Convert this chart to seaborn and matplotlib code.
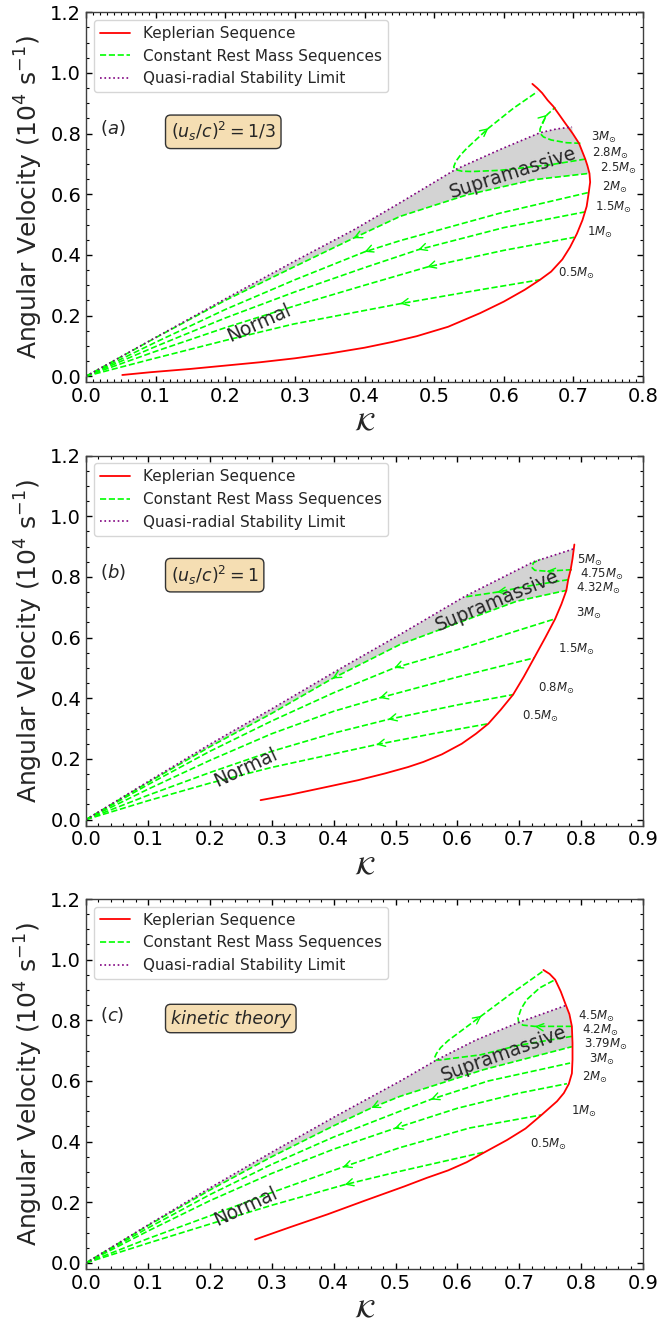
import numpy as np
import matplotlib
matplotlib.use("Agg")
import matplotlib.pyplot as plt
from matplotlib.ticker import MultipleLocator, FormatStrFormatter
import seaborn as sns

# ---------------- panel (a): (u_s/c)^2 = 1/3 ----------------
kep_a_k = [0.052, 0.092, 0.15, 0.2, 0.25, 0.3, 0.35, 0.4, 0.44, 0.475, 0.52, 0.566,
           0.6, 0.63, 0.652, 0.668, 0.684, 0.695, 0.705, 0.713, 0.719, 0.722, 0.724,
           0.723, 0.72, 0.717, 0.708, 0.699, 0.688, 0.671, 0.663, 0.655, 0.648, 0.641]
kep_a_w = [0.004, 0.013, 0.024, 0.035, 0.046, 0.059, 0.075, 0.094, 0.113, 0.132, 0.163,
           0.208, 0.246, 0.285, 0.318, 0.345, 0.385, 0.425, 0.47, 0.515, 0.56, 0.606,
           0.64, 0.669, 0.695, 0.716, 0.768, 0.8, 0.835, 0.89, 0.91, 0.934, 0.95, 0.964]
seq_a_05_k = [0, 0.092, 0.2, 0.298, 0.451, 0.566, 0.652]
seq_a_05_w = [0, 0.055, 0.118, 0.172, 0.239, 0.285, 0.318]
seq_a_1_k = [0, 0.1, 0.2, 0.3, 0.4, 0.49, 0.6, 0.701]
seq_a_1_w = [0, 0.082, 0.16, 0.232, 0.3, 0.36, 0.415, 0.458]
seq_a_15_k = [0, 0.1, 0.2, 0.3, 0.4, 0.477, 0.6, 0.717]
seq_a_15_w = [0, 0.098, 0.192, 0.278, 0.358, 0.417, 0.49, 0.542]
seq_a_2_k = [0, 0.1, 0.2, 0.3, 0.4, 0.451, 0.595, 0.722]
seq_a_2_w = [0, 0.112, 0.22, 0.318, 0.41, 0.447, 0.538, 0.606]
seq_a_25_k = [0, 0.1, 0.2, 0.3, 0.384, 0.451, 0.547, 0.643, 0.723]
seq_a_25_w = [0, 0.127, 0.25, 0.362, 0.455, 0.527, 0.598, 0.648, 0.669]
seq_a_28_k = [0.717, 0.666, 0.595, 0.555, 0.54, 0.531, 0.528, 0.531, 0.538, 0.547,
              0.578, 0.614, 0.648]
seq_a_28_w = [0.716, 0.697, 0.679, 0.675, 0.676, 0.681, 0.69, 0.708, 0.73, 0.752,
              0.818, 0.884, 0.938]
seq_a_3_k = [0.71, 0.69, 0.668, 0.657, 0.652, 0.652, 0.656, 0.662, 0.674]
seq_a_3_w = [0.768, 0.77, 0.779, 0.789, 0.801, 0.815, 0.838, 0.862, 0.887]
lim_a_k = [0, 0.1, 0.2, 0.3, 0.384, 0.451, 0.53, 0.595, 0.652, 0.675, 0.698]
lim_a_w = [0, 0.128, 0.255, 0.38, 0.482, 0.572, 0.681, 0.748, 0.803, 0.815, 0.822]
mass_a = ["3", "2.8", "2.5", "2", "1.5", "1", "0.5"]
mass_a_k = [0.743, 0.753, 0.764, 0.760, 0.757, 0.738, 0.705]
mass_a_w = [0.787, 0.735, 0.684, 0.623, 0.558, 0.475, 0.340]
arrow_a_idx = [4, 5, 5, 4, 4, 10, 7]
arrow_a_dir = [-1, -1, -1, -1, -1, 1, 1]

# ---------------- panel (b): (u_s/c)^2 = 1 ----------------
kep_b_k = [0.282, 0.33, 0.39, 0.44, 0.483, 0.52, 0.545, 0.575, 0.607, 0.63, 0.65,
           0.67, 0.69, 0.707, 0.724, 0.742, 0.758, 0.768, 0.776, 0.779, 0.783, 0.786,
           0.789]
kep_b_w = [0.064, 0.082, 0.108, 0.13, 0.152, 0.173, 0.19, 0.215, 0.25, 0.283, 0.316,
           0.362, 0.412, 0.47, 0.533, 0.6, 0.662, 0.71, 0.755, 0.791, 0.824, 0.86,
           0.907]
seq_b_05_k = [0, 0.1, 0.2, 0.3, 0.469, 0.56, 0.65]
seq_b_05_w = [0, 0.062, 0.12, 0.172, 0.247, 0.283, 0.316]
seq_b_08_k = [0, 0.1, 0.2, 0.3, 0.4, 0.488, 0.6, 0.69]
seq_b_08_w = [0, 0.08, 0.155, 0.225, 0.285, 0.33, 0.378, 0.412]
seq_b_15_k = [0, 0.1, 0.2, 0.3, 0.4, 0.474, 0.6, 0.724]
seq_b_15_w = [0, 0.1, 0.195, 0.283, 0.357, 0.401, 0.47, 0.533]
seq_b_3_k = [0, 0.1, 0.2, 0.3, 0.4, 0.498, 0.6, 0.7, 0.758]
seq_b_3_w = [0, 0.115, 0.225, 0.325, 0.418, 0.5, 0.56, 0.625, 0.662]
seq_b_432_k = [0, 0.1, 0.2, 0.3, 0.398, 0.507, 0.615, 0.696, 0.777]
seq_b_432_w = [0, 0.122, 0.24, 0.35, 0.465, 0.577, 0.659, 0.72, 0.756]
seq_b_475_k = [0.779, 0.72, 0.664, 0.612]
seq_b_475_w = [0.791, 0.772, 0.75, 0.734]
seq_b_5_k = [0.785, 0.744, 0.725, 0.72, 0.723, 0.734]
seq_b_5_w = [0.824, 0.819, 0.822, 0.832, 0.847, 0.858]
lim_b_k = [0, 0.1, 0.2, 0.3, 0.4, 0.507, 0.612, 0.723, 0.787]
lim_b_w = [0, 0.125, 0.248, 0.365, 0.485, 0.61, 0.736, 0.85, 0.892]
mass_b = ["5", "4.75", "4.32", "3", "1.5", "0.8", "0.5"]
mass_b_k = [0.814, 0.833, 0.828, 0.812, 0.792, 0.760, 0.734]
mass_b_w = [0.854, 0.808, 0.762, 0.681, 0.560, 0.431, 0.339]
arrow_b_idx = [4, 5, 5, 5, 4, 2, 1]
arrow_b_dir = [-1, -1, -1, -1, -1, 1, 1]

# ---------------- panel (c): kinetic theory ----------------
kep_c_k = [0.273, 0.33, 0.39, 0.45, 0.514, 0.55, 0.585, 0.615, 0.645, 0.68, 0.71,
           0.736, 0.761, 0.772, 0.78, 0.785, 0.786, 0.786, 0.785, 0.781, 0.774, 0.767,
           0.758, 0.749, 0.739]
kep_c_w = [0.077, 0.118, 0.16, 0.205, 0.252, 0.28, 0.305, 0.332, 0.366, 0.405, 0.443,
           0.488, 0.533, 0.56, 0.59, 0.625, 0.67, 0.725, 0.78, 0.82, 0.857, 0.895,
           0.934, 0.953, 0.966]
seq_c_05_k = [0, 0.1, 0.2, 0.3, 0.418, 0.507, 0.645]
seq_c_05_w = [0, 0.065, 0.128, 0.19, 0.258, 0.302, 0.366]
seq_c_1_k = [0, 0.1, 0.2, 0.3, 0.415, 0.507, 0.62, 0.736]
seq_c_1_w = [0, 0.08, 0.155, 0.232, 0.316, 0.38, 0.445, 0.488]
seq_c_2_k = [0, 0.1, 0.2, 0.3, 0.4, 0.498, 0.6, 0.7, 0.777]
seq_c_2_w = [0, 0.105, 0.205, 0.295, 0.375, 0.443, 0.51, 0.56, 0.591]
seq_c_3_k = [0, 0.1, 0.2, 0.3, 0.4, 0.507, 0.557, 0.65, 0.782]
seq_c_3_w = [0, 0.115, 0.225, 0.325, 0.415, 0.5, 0.539, 0.6, 0.659]
seq_c_379_k = [0, 0.1, 0.2, 0.3, 0.4, 0.461, 0.507, 0.642, 0.785]
seq_c_379_w = [0, 0.123, 0.24, 0.35, 0.452, 0.511, 0.549, 0.637, 0.713]
seq_c_42_k = [0.785, 0.7, 0.637, 0.59, 0.572, 0.565, 0.563, 0.566, 0.573, 0.585,
              0.639, 0.685, 0.739]
seq_c_42_w = [0.747, 0.718, 0.686, 0.674, 0.669, 0.669, 0.676, 0.69, 0.71, 0.733,
              0.815, 0.885, 0.963]
seq_c_45_k = [0.785, 0.725, 0.706, 0.699, 0.698, 0.703, 0.712, 0.733, 0.758]
seq_c_45_w = [0.78, 0.78, 0.784, 0.793, 0.808, 0.838, 0.868, 0.907, 0.934]
lim_c_k = [0, 0.1, 0.2, 0.3, 0.4, 0.507, 0.567, 0.63, 0.699, 0.774]
lim_c_w = [0, 0.125, 0.247, 0.365, 0.48, 0.599, 0.67, 0.735, 0.793, 0.848]
mass_c = ["4.5", "4.2", "3.79", "3", "2", "1", "0.5"]
mass_c_k = [0.825, 0.831, 0.839, 0.833, 0.822, 0.804, 0.747]
mass_c_w = [0.812, 0.766, 0.720, 0.672, 0.613, 0.500, 0.390]
arrow_c_idx = [4, 4, 5, 6, 5, 10, 1]
arrow_c_dir = [-1, -1, -1, -1, -1, 1, 1]

sns.set_theme(style="ticks")
plt.rcParams["font.family"] = ["DejaVu Sans"]
plt.rcParams["mathtext.fontset"] = "dejavusans"

RED, GREEN, PURPLE = "#ff0000", "#00ff00", "purple"


def draw_panel(ax, xmax, xminor, kep, seqs, bound, lim, arrows, masses,
               tag, badge, badge_italic, supra, normal):
    ax.set_xlim(0, xmax)
    ax.set_ylim(-0.02, 1.2)

    kep_k, kep_w = np.asarray(kep[0]), np.asarray(kep[1])
    lim_k, lim_w = np.asarray(lim[0]), np.asarray(lim[1])
    bk, bw = seqs[bound]

    # supramassive region: boundary sequence, Keplerian edge, stability limit
    sel = (kep_w > bw[-1]) & (kep_w < lim_w[-1])
    poly_k = list(bk) + list(kep_k[sel]) + list(lim_k[::-1])
    poly_w = list(bw) + list(kep_w[sel]) + list(lim_w[::-1])
    ax.fill(poly_k, poly_w, color="#d3d3d3", lw=0, zorder=1)

    for i, (k, w) in enumerate(seqs):
        sns.lineplot(x=k, y=w, ax=ax, sort=False, estimator=None, color=GREEN,
                     linestyle="--", lw=1.2, zorder=3,
                     label="Constant Rest Mass Sequences" if i == 0 else None)
    sns.lineplot(x=kep_k, y=kep_w, ax=ax, sort=False, estimator=None, color=RED,
                 lw=1.3, zorder=4, label="Keplerian Sequence")
    sns.lineplot(x=lim_k, y=lim_w, ax=ax, sort=False, estimator=None, color=PURPLE,
                 linestyle=":", lw=1.2, zorder=4, label="Quasi-radial Stability Limit")

    # direction arrows on the sequences
    for (k, w), idx, s in zip(seqs, arrows[0], arrows[1]):
        p = ax.transData.transform((k[idx], w[idx]))
        q = ax.transData.transform((k[idx + s], w[idx + s]))
        d = (q - p) / np.hypot(*(q - p))
        ax.annotate("", xy=(k[idx], w[idx]), xytext=(-d[0] * 3, -d[1] * 3),
                    textcoords="offset pixels",
                    arrowprops=dict(arrowstyle="->", color=GREEN, lw=1.0,
                                    mutation_scale=13, shrinkA=0, shrinkB=0),
                    zorder=5)

    for txt, k, w in zip(masses[0], masses[1], masses[2]):
        ax.text(k, w, r"$%sM_{\odot}$" % txt, fontsize=8.5, ha="center",
                va="center", zorder=6)

    ax.text(supra[0], supra[1], "Supramassive", fontsize=13.5, rotation=supra[2],
            ha="center", va="center", rotation_mode="anchor", zorder=6)
    ax.text(normal[0], normal[1], "Normal", fontsize=13.5, rotation=normal[2],
            ha="center", va="center", rotation_mode="anchor", zorder=6)

    ax.text(0.025, 0.686, tag, transform=ax.transAxes, fontsize=13,
            ha="left", va="center")
    ax.text(0.152, 0.677, badge, transform=ax.transAxes, fontsize=12.5,
            ha="left", va="center", style="italic" if badge_italic else "normal",
            bbox=dict(boxstyle="round,pad=0.3", facecolor="wheat",
                      edgecolor="0.2", lw=1.0))

    handles, labels = ax.get_legend_handles_labels()
    order = [labels.index(n) for n in ["Keplerian Sequence",
                                       "Constant Rest Mass Sequences",
                                       "Quasi-radial Stability Limit"]]
    ax.legend([handles[i] for i in order], [labels[i] for i in order],
              loc="upper left", fontsize=11, frameon=True, fancybox=True,
              framealpha=0.8, edgecolor="0.8")

    ax.xaxis.set_major_locator(MultipleLocator(0.1))
    ax.xaxis.set_minor_locator(MultipleLocator(xminor))
    ax.yaxis.set_major_locator(MultipleLocator(0.2))
    ax.yaxis.set_minor_locator(MultipleLocator(0.05))
    ax.xaxis.set_major_formatter(FormatStrFormatter("%.1f"))
    ax.yaxis.set_major_formatter(FormatStrFormatter("%.1f"))
    ax.tick_params(which="both", direction="in", top=True, right=True,
                   colors="black")
    ax.tick_params(which="major", length=4, width=1.0, labelsize=14)
    ax.tick_params(which="minor", length=2, width=0.8)
    for sp in ax.spines.values():
        sp.set_color("0.25")
        sp.set_linewidth(1.0)
    ax.set_xlabel(r"$\mathcal{K}$", fontsize=18)
    ax.set_ylabel(r"Angular Velocity ($10^4$ s$^{-1}$)", fontsize=18)


fig = plt.figure(figsize=(6.62, 13.25), dpi=100)
left, width, height = 0.130, 0.8414, 0.2792
ax_a = fig.add_axes([left, 0.7115, width, height])
ax_b = fig.add_axes([left, 0.3769, width, height])
ax_c = fig.add_axes([left, 0.0423, width, height])

draw_panel(
    ax_a, 0.8, 0.01, (kep_a_k, kep_a_w),
    [(seq_a_05_k, seq_a_05_w), (seq_a_1_k, seq_a_1_w), (seq_a_15_k, seq_a_15_w),
     (seq_a_2_k, seq_a_2_w), (seq_a_25_k, seq_a_25_w), (seq_a_28_k, seq_a_28_w),
     (seq_a_3_k, seq_a_3_w)],
    4, (lim_a_k, lim_a_w), (arrow_a_idx, arrow_a_dir),
    (mass_a, mass_a_k, mass_a_w), r"$(a)$", r"$(u_s/c)^2=1/3$", False,
    (0.613, 0.670, 17.7), (0.249, 0.175, 24))

draw_panel(
    ax_b, 0.9, 0.02, (kep_b_k, kep_b_w),
    [(seq_b_05_k, seq_b_05_w), (seq_b_08_k, seq_b_08_w), (seq_b_15_k, seq_b_15_w),
     (seq_b_3_k, seq_b_3_w), (seq_b_432_k, seq_b_432_w), (seq_b_475_k, seq_b_475_w),
     (seq_b_5_k, seq_b_5_w)],
    4, (lim_b_k, lim_b_w), (arrow_b_idx, arrow_b_dir),
    (mass_b, mass_b_k, mass_b_w), r"$(b)$", r"$(u_s/c)^2=1$", False,
    (0.664, 0.722, 22.7), (0.258, 0.170, 25))

draw_panel(
    ax_c, 0.9, 0.02, (kep_c_k, kep_c_w),
    [(seq_c_05_k, seq_c_05_w), (seq_c_1_k, seq_c_1_w), (seq_c_2_k, seq_c_2_w),
     (seq_c_3_k, seq_c_3_w), (seq_c_379_k, seq_c_379_w), (seq_c_42_k, seq_c_42_w),
     (seq_c_45_k, seq_c_45_w)],
    4, (lim_c_k, lim_c_w), (arrow_c_idx, arrow_c_dir),
    (mass_c, mass_c_k, mass_c_w), r"$(c)$", "kinetic theory", True,
    (0.675, 0.689, 19.8), (0.258, 0.187, 25))

fig.savefig("out.png", dpi=100)
